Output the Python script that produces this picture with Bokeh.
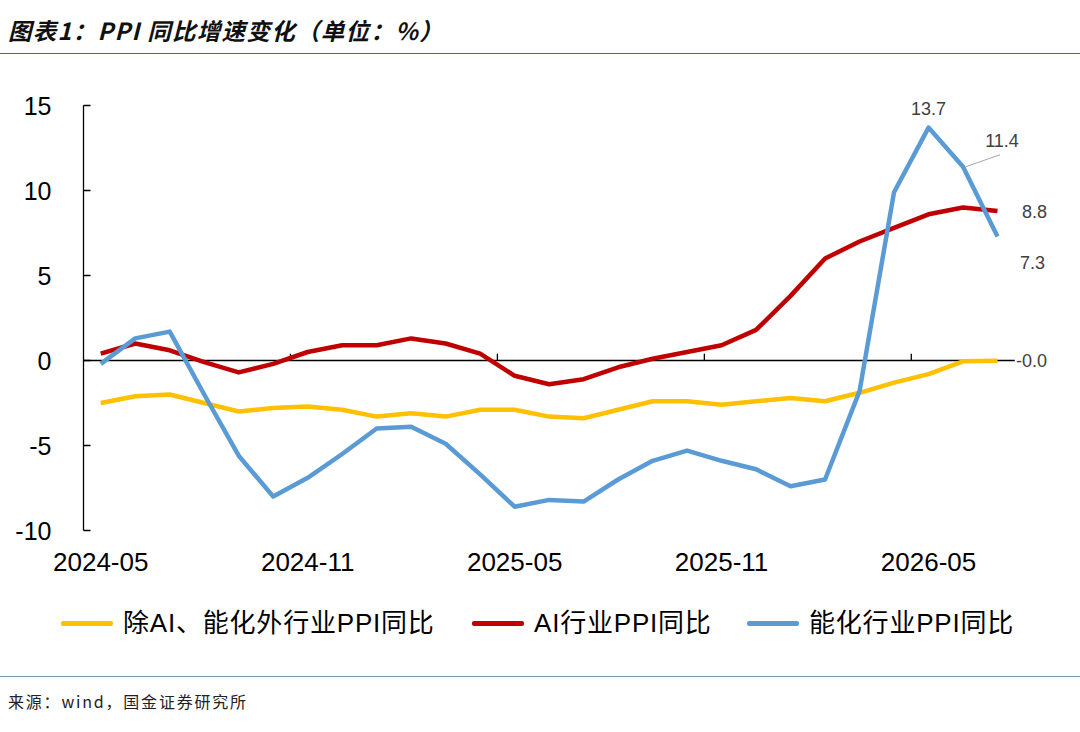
from bokeh.plotting import figure
from bokeh.models import Range1d, FixedTicker, Div, ColumnDataSource
from bokeh.layouts import column
from bokeh.embed import file_html
from bokeh.resources import INLINE
from bokeh.core.properties import value

# ---------------- data ----------------
months = ["2024-05", "2024-06", "2024-07", "2024-08", "2024-09", "2024-10", "2024-11",
          "2024-12", "2025-01", "2025-02", "2025-03", "2025-04", "2025-05", "2025-06",
          "2025-07", "2025-08", "2025-09", "2025-10", "2025-11", "2025-12", "2026-01",
          "2026-02", "2026-03", "2026-04", "2026-05", "2026-06", "2026-07"]
ex_ai_energy = [-2.5, -2.1, -2.0, -2.5, -3.0, -2.8, -2.7, -2.9, -3.3, -3.1, -3.3, -2.9, -2.9, -3.3,
                -3.4, -2.9, -2.4, -2.4, -2.6, -2.4, -2.2, -2.4, -1.9, -1.3, -0.8, -0.05, -0.02]
ai_ppi = [0.4, 1.0, 0.6, -0.1, -0.7, -0.2, 0.5, 0.9, 0.9, 1.3, 1.0, 0.4, -0.9, -1.4,
          -1.1, -0.4, 0.1, 0.5, 0.9, 1.8, 3.8, 6.0, 7.0, 7.8, 8.6, 9.0, 8.8]
energy_ppi = [-0.2, 1.3, 1.7, -2.0, -5.6, -8.0, -6.9, -5.5, -4.0, -3.9, -4.9, -6.7, -8.6, -8.2,
              -8.3, -7.0, -5.9, -5.3, -5.9, -6.4, -7.4, -7.0, -1.8, 9.9, 13.7, 11.4, 7.3]
series_names = ["除AI、能化外行业PPI同比", "AI行业PPI同比", "能化行业PPI同比"]
series_colors = ["#FFC000", "#C00000", "#5B9BD5"]
label_ticks = [0, 6, 12, 18, 24]
y_ticks = [-10, -5, 0, 5, 10, 15]

title_text = "图表1：PPI 同比增速变化（单位：%）"
source_text = "来源：wind，国金证券研究所"

n = len(months)
xs = list(range(n))
PX_X = 34.5   # approx px per category
PX_Y = 17.0   # approx px per unit

# ---------------- main chart ----------------
p = figure(width=1080, height=536, output_backend="svg", toolbar_location=None, tools="",
           x_range=Range1d(-0.5, n + 1.0), y_range=Range1d(-10, 17),
           min_border_left=83, min_border_right=14, min_border_top=17, min_border_bottom=60,
           outline_line_color=None, background_fill_color="white", border_fill_color="white")
p.xgrid.visible = False
p.ygrid.visible = False

yax = p.yaxis[0]
yax.ticker = FixedTicker(ticks=y_ticks)
yax.major_label_overrides = {t: str(t) for t in y_ticks}
yax.bounds = (y_ticks[0], y_ticks[-1])
yax.major_tick_in = 7
yax.major_tick_out = 0
yax.minor_tick_line_color = None
yax.axis_line_width = 1.3
yax.axis_line_color = "black"
yax.major_tick_line_width = 1.3
yax.major_label_text_font = "Liberation Sans"
yax.major_label_text_font_size = "25px"
yax.major_label_text_color = "black"
yax.major_label_standoff = 32

xax = p.xaxis[0]
xax.ticker = FixedTicker(ticks=label_ticks)
xax.major_label_overrides = {i: months[i] for i in label_ticks}
xax.axis_line_color = None
xax.major_tick_line_color = None
xax.minor_tick_line_color = None
xax.major_label_text_font = "Liberation Sans"
xax.major_label_text_font_size = "26px"
xax.major_label_text_color = "black"
xax.major_label_standoff = 16

# zero axis line and category-boundary ticks
p.segment(x0=[-0.5], y0=[0], x1=[n - 0.5], y1=[0], line_color="black", line_width=1.3)
bounds = [i - 0.5 for i in label_ticks[1:]]
p.segment(x0=bounds, y0=[0] * len(bounds), x1=bounds, y1=[0.4] * len(bounds),
          line_color="black", line_width=1.3)

for vals, col in zip([ex_ai_energy, ai_ppi, energy_ppi], series_colors):
    p.line(xs, vals, line_color=col, line_width=4.5, line_join="round")

# data labels
lab_vals = [energy_ppi[24], energy_ppi[25], ai_ppi[-1], energy_ppi[-1], ex_ai_energy[-1]]
lab = ColumnDataSource(dict(
    x=[24, 25, n - 1, n - 1, n - 1],
    y=lab_vals,
    t=[f"{v:.1f}" for v in lab_vals],
    dx=[0, 39, 37, 35, 34],
    dy=[-19, -26, 1, 26, 0],
))
p.text(x="x", y="y", text="t", x_offset="dx", y_offset="dy", source=lab,
       text_align="center", text_baseline="middle", text_font=value("Liberation Sans"),
       text_font_size="18px", text_color="#404040")
# leader line for 11.4
p.segment(x0=[25 + 3 / PX_X], y0=[energy_ppi[25]], x1=[25 + 37 / PX_X], y1=[energy_ppi[25] + 12 / PX_Y],
          line_color="#a6a6a6", line_width=1)

# ---------------- legend strip (HTML) ----------------
item_x = [61, 472, 747]   # layout: left edge of each legend entry (px)
row_mid = 33
parts = []
for x, col, nm in zip(item_x, series_colors, series_names):
    parts.append(
        f'<span style="position:absolute;left:{x}px;top:{row_mid - 2.5}px;width:52px;height:5px;'
        f'background:{col};border-radius:2px;"></span>')
    parts.append(
        f'<span style="position:absolute;left:{x + 62}px;top:{row_mid - 18}px;height:36px;line-height:36px;'
        f'font-family:\'Liberation Sans\',\'Noto Sans CJK SC\';font-size:26px;letter-spacing:0.8px;'
        f'color:#000;white-space:nowrap;">{nm}</span>')
legend_div = Div(text='<div style="position:relative;width:1080px;height:86px;">' + "".join(parts) + '</div>',
                 width=1080, height=86, margin=(0, 0, 0, 0))

title_div = Div(text=(
    '<div style="width:1080px;height:54px;box-sizing:border-box;border-bottom:1.6px solid #4a6a82;'
    'padding:8px 0 0 8px;font-family:\'Noto Sans CJK SC\';font-style:italic;font-weight:bold;'
    'font-size:23.5px;letter-spacing:1.3px;line-height:44px;color:#111;white-space:nowrap;">'
    + title_text + '</div>'),
    width=1080, height=54, margin=(0, 0, 0, 0))

src_div = Div(text=(
    '<div style="width:1080px;height:56px;box-sizing:border-box;border-top:1.6px solid #7d97ab;'
    'padding-left:8px;font-family:\'Noto Sans CJK SC\';font-size:16px;letter-spacing:1.8px;'
    'line-height:48px;color:#222;white-space:nowrap;">' + source_text + '</div>'),
    width=1080, height=56, margin=(0, 0, 0, 0))

layout = column(title_div, p, legend_div, src_div, spacing=0)

open("out.html", "w").write(file_html(layout, INLINE))
